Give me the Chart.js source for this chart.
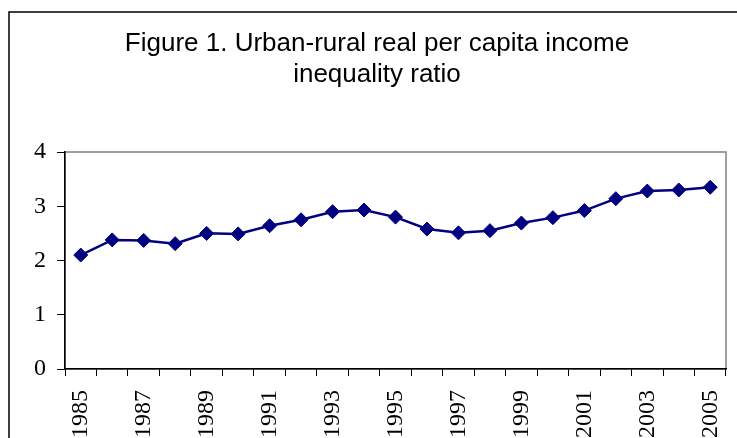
<!DOCTYPE html>
<html>
<head>
<meta charset="utf-8">
<script src="https://cdn.jsdelivr.net/npm/chart.js@4/dist/chart.umd.min.js"></script>
<style>
  html, body { margin: 0; padding: 0; background: #fff; overflow: hidden; }
  canvas { display: block; }
</style>
</head>
<body>
<canvas id="c" width="737" height="438"></canvas>
<script>
const titleLines = ['Figure 1. Urban-rural real per capita income', 'inequality ratio'];
const years = ['1985','1986','1987','1988','1989','1990','1991','1992','1993','1994','1995',
               '1996','1997','1998','1999','2000','2001','2002','2003','2004','2005'];
const ratio = [2.10, 2.38, 2.37, 2.31, 2.50, 2.49, 2.64, 2.75, 2.90, 2.93, 2.80,
               2.58, 2.51, 2.55, 2.69, 2.79, 2.92, 3.14, 3.28, 3.30, 3.35];
const yTicks = [0, 1, 2, 3, 4];

const frame = {
  id: 'frame',
  beforeDraw(chart) {
    const ctx = chart.ctx, a = chart.chartArea;
    ctx.save();
    ctx.fillStyle = '#fff';
    ctx.fillRect(0, 0, chart.width, chart.height);
    ctx.strokeStyle = '#000';
    ctx.lineWidth = 1.5;
    ctx.strokeRect(9, 12, 800, 600);
    ctx.strokeStyle = '#808080';
    ctx.lineWidth = 1.5;
    ctx.strokeRect(a.left, a.top, a.right - a.left, a.bottom - a.top);
    ctx.fillStyle = '#000';
    ctx.font = '26px "Liberation Sans", Arial, sans-serif';
    ctx.textAlign = 'center';
    ctx.textBaseline = 'alphabetic';
    ctx.fillText(titleLines[0], 377, 51);
    ctx.fillText(titleLines[1], 377, 82);
    ctx.restore();
  }
};

new Chart(document.getElementById('c'), {
  type: 'line',
  data: {
    labels: years,
    datasets: [{
      data: ratio,
      borderColor: '#000080',
      backgroundColor: '#000080',
      borderWidth: 2.5,
      pointStyle: 'rectRot',
      pointRadius: 7,
      pointBorderWidth: 1,
      pointBackgroundColor: '#000080',
      pointBorderColor: '#000080',
      tension: 0
    }]
  },
  options: {
    responsive: false,
    animation: false,
    layout: { padding: { top: 152, left: 0, right: 11, bottom: 0 } },
    plugins: { legend: { display: false }, tooltip: { enabled: false }, title: { display: false } },
    scales: {
      x: {
        type: 'category',
        offset: true,
        afterFit(s) { s.height = 438 - 369; s.paddingLeft = 0; s.paddingRight = 0; },
        grid: { display: true, offset: true, drawOnChartArea: false, tickLength: 7, color: '#000', tickColor: '#000', tickWidth: 1 },
        border: { display: true, color: '#000', width: 1.5 },
        ticks: {
          autoSkip: false,
          maxRotation: 90,
          minRotation: 90,
          padding: 14,
          color: '#000',
          font: { family: '"Liberation Serif", "Times New Roman", serif', size: 24 },
          callback(v, i) { return i % 2 === 0 ? years[i] : ''; }
        }
      },
      y: {
        min: 0,
        max: 4,
        afterFit(s) { s.width = 65; s.paddingTop = 0; s.paddingBottom = 0; },
        afterBuildTicks(s) { s.ticks = yTicks.map(v => ({ value: v })); },
        grid: { display: true, drawOnChartArea: false, tickLength: 8, color: '#000', tickColor: '#000', tickWidth: 1 },
        border: { display: true, color: '#000', width: 1.5 },
        ticks: {
          padding: 11,
          color: '#000',
          font: { family: '"Liberation Serif", "Times New Roman", serif', size: 24 }
        }
      }
    }
  },
  plugins: [frame]
});
</script>
</body>
</html>
